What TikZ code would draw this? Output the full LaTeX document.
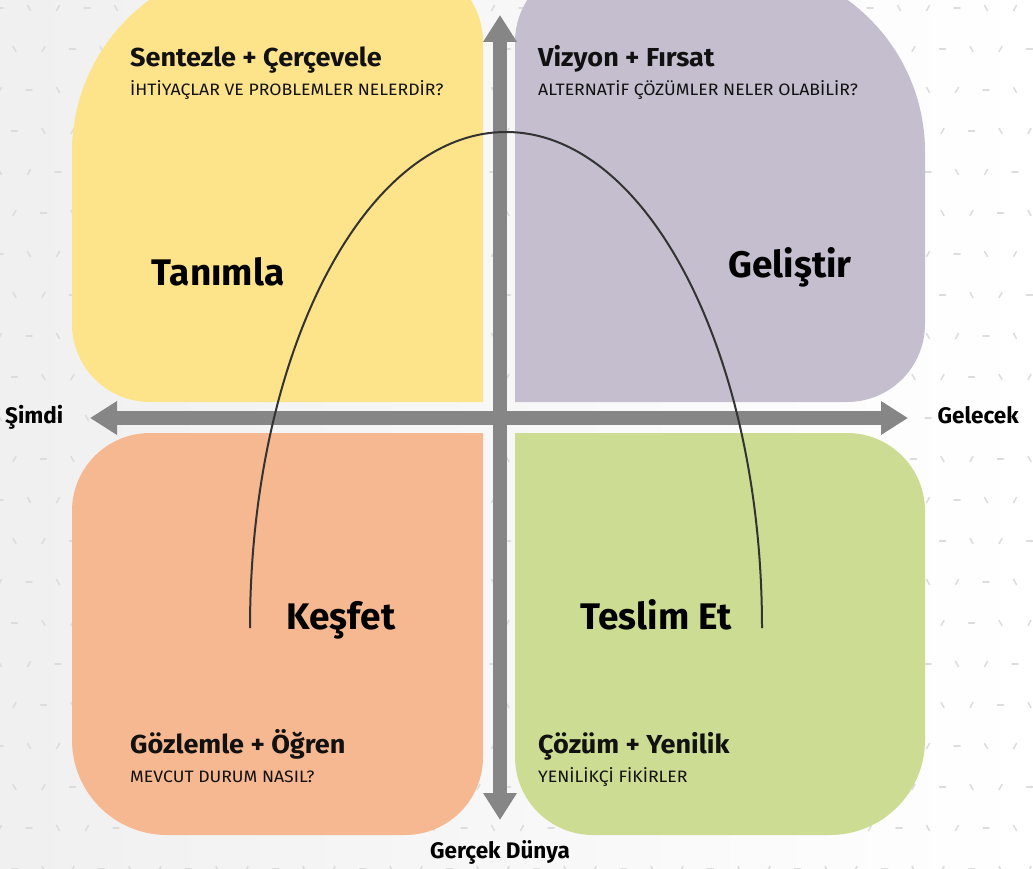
\documentclass[tikz,border=0pt]{standalone}
\usepackage{fontspec}
\setmainfont{Fira Sans}
\newfontfamily\subfont[FakeStretch=1.07]{Fira Sans}
\newfontfamily\headfont[FakeStretch=1.04]{Fira Sans}
\usetikzlibrary{arrows.meta}
\definecolor{yel}{HTML}{FDE38A}
\definecolor{pur}{HTML}{C4BECE}
\definecolor{ora}{HTML}{F6B891}
\definecolor{gre}{HTML}{CCDC92}
\definecolor{axisgray}{HTML}{868686}
\definecolor{arcc}{HTML}{333333}
\definecolor{markc}{HTML}{DCDCDC}
\definecolor{txt}{HTML}{111111}
\tikzset{
  bgmark/.style={draw=markc, line width=1.5, line cap=round},
  axisline/.style={draw=axisgray, line width=14,
     {Triangle[length=27pt,width=32pt]}-{Triangle[length=27pt,width=32pt]}},
  arcline/.style={draw=arcc, line width=2},
  head/.style={anchor=base west, inner sep=0, text=txt, font=\headfont\bfseries\fontsize{26}{30}\selectfont},
  sub/.style={anchor=base west, inner sep=0, text=txt, font=\subfont\fontsize{16.5}{19}\selectfont},
  big/.style={anchor=base, inner sep=0, text=black, font=\bfseries\fontsize{37}{42}\selectfont},
  side/.style={inner sep=0, text=black, font=\bfseries\fontsize{22.5}{26}\selectfont},
}
\begin{document}
\begin{tikzpicture}[x=1pt,y=-1pt]
\useasboundingbox (0,0) rectangle (1033,869);
\clip (0,0) rectangle (1033,869);
\shade[left color=black!6, right color=white] (0,0) rectangle (1033,869);
% background marks
\foreach \j in {0,...,21} {
  \foreach \i in {0,...,36} {
    \pgfmathsetmacro\xx{\i*29 + mod(\j,2)*14.5}
    \pgfmathsetmacro\yy{\j*41+8}
    \pgfmathtruncatemacro\ang{mod(\i+\j,3)*60}
    \draw[bgmark] (\xx,\yy) ++(\ang:3) -- ++(\ang+180:6);
  }
}
\def\rs{78}\def\rb{95}\def\rt{188}\def\kk{0.5523}
% yellow (outer corner top-left)
\fill[yel] (483,402) -- ({72+\rs},402) .. controls ({72+\rs*(1-\kk)},402) and (72,{402-\rs*(1-\kk)}) .. (72,{402-\rs})
  -- (72,{-36+\rt}) .. controls (72,{-36+\rt*(1-\kk)}) and ({72+\rt*(1-\kk)},-36) .. ({72+\rt},-36)
  -- ({483-\rs},-36) .. controls ({483-\rs*(1-\kk)},-36) and (483,{-36+\rs*(1-\kk)}) .. (483,{-36+\rs}) -- cycle;
% purple (outer corner top-right)
\fill[pur] (515,402) -- (515,{-36+\rs}) .. controls (515,{-36+\rs*(1-\kk)}) and ({515+\rs*(1-\kk)},-36) .. ({515+\rs},-36)
  -- ({925-\rt},-36) .. controls ({925-\rt*(1-\kk)},-36) and (925,{-36+\rt*(1-\kk)}) .. (925,{-36+\rt})
  -- (925,{402-\rs}) .. controls (925,{402-\rs*(1-\kk)}) and ({925-\rs*(1-\kk)},402) .. ({925-\rs},402) -- cycle;
% orange (outer corner bottom-left)
\fill[ora] (483,433) -- ({72+\rs},433) .. controls ({72+\rs*(1-\kk)},433) and (72,{433+\rs*(1-\kk)}) .. (72,{433+\rs})
  -- (72,{835-\rb}) .. controls (72,{835-\rb*(1-\kk)}) and ({72+\rb*(1-\kk)},835) .. ({72+\rb},835)
  -- ({483-\rs},835) .. controls ({483-\rs*(1-\kk)},835) and (483,{835-\rs*(1-\kk)}) .. (483,{835-\rs}) -- cycle;
% green (outer corner bottom-right)
\fill[gre] (515,433) -- ({925-\rs},433) .. controls ({925-\rs*(1-\kk)},433) and (925,{433+\rs*(1-\kk)}) .. (925,{433+\rs})
  -- (925,{835-\rb}) .. controls (925,{835-\rb*(1-\kk)}) and ({925-\rb*(1-\kk)},835) .. ({925-\rb},835)
  -- ({515+\rs},835) .. controls ({515+\rs*(1-\kk)},835) and (515,{835-\rs*(1-\kk)}) .. (515,{835-\rs}) -- cycle;
% axes
\coordinate (axL) at (90,418);
\coordinate (axR) at (908,418);
\coordinate (axT) at (500,15);
\coordinate (axB) at (500,820);
\draw[axisline] (axL) -- (axR);
\draw[axisline] (axB) -- (axT);
% arc
\coordinate (arcL) at (250,628);
\coordinate (arcTop) at (506,132);
\coordinate (arcR) at (762,628);
\draw[arcline] (arcL) .. controls +(0,-274) and +(-141.4,0) .. (arcTop) .. controls +(141.4,0) and +(0,-274) .. (arcR);
% texts
\node[head] (h1) at (130,67) {Sentezle + Çerçevele};
\node[sub] (s1) at (130,96) {İHTİYAÇLAR VE PROBLEMLER NELERDİR?};
\node[head] (h2) at (538,67) {Vizyon + Fırsat};
\node[sub] (s2) at (538,96) {ALTERNATİF ÇÖZÜMLER NELER OLABİLİR?};
\node[head] (h3) at (130,753) {Gözlemle + Öğren};
\node[sub] (s3) at (130,782) {MEVCUT DURUM NASIL?};
\node[head] (h4) at (538,753) {Çözüm + Yenilik};
\node[sub] (s4) at (538,782) {YENİLİKÇİ FİKİRLER};
\node[big] (b1) at (218,285) {Tanımla};
\node[big] (b2) at (790,277) {Geliştir};
\node[big] (b3) at (341,629) {Keşfet};
\node[big] (b4) at (656,629) {Teslim Et};
\node[side, anchor=base west] (l1) at (5,423) {Şimdi};
\node[side, anchor=base east] (l2) at (1019,423) {Gelecek};
\node[side, anchor=base] (l3) at (500,858) {Gerçek Dünya};
\end{tikzpicture}
\end{document}
